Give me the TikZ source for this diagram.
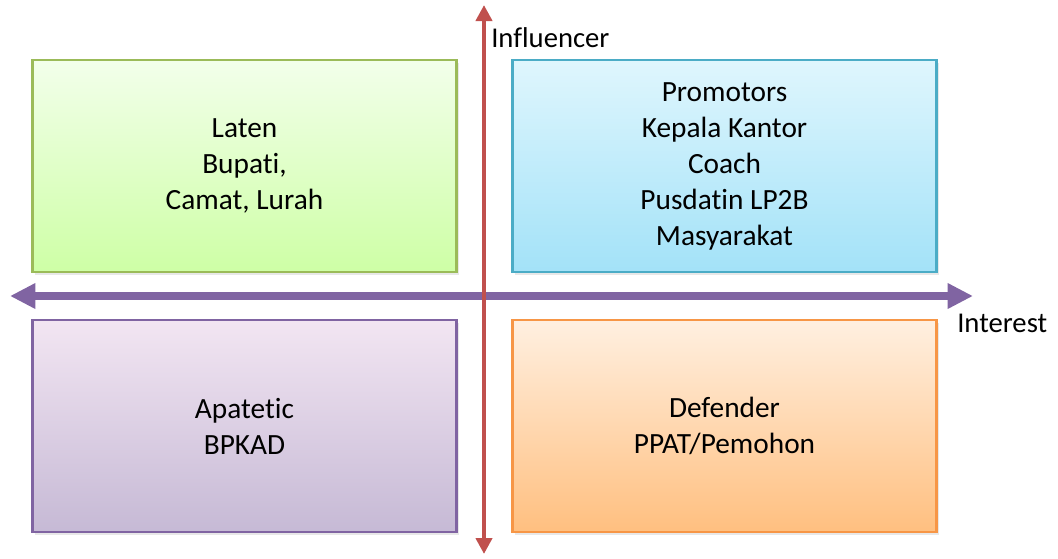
\documentclass[tikz,border=0pt]{standalone}
\usepackage{fontspec}
\setmainfont[Ligatures=NoCommon]{Carlito}
\usetikzlibrary{arrows.meta,shadows}

\definecolor{greenline}{HTML}{9BBB59}
\definecolor{blueline}{HTML}{4BACC6}
\definecolor{purpleline}{HTML}{8064A2}
\definecolor{orangeline}{HTML}{F79646}
\definecolor{axisred}{HTML}{C0504D}
\definecolor{bluetop}{HTML}{DFF6FD}
\definecolor{bluebottom}{HTML}{A3E2F8}

\begin{document}
\begin{tikzpicture}[x=0.75pt, y=-0.75pt,
    quadrant/.style={rectangle, line width=1.6pt, minimum width=318pt, minimum height=159pt,
        align=center, inner sep=0pt, font=\fontsize{22}{27}\selectfont,
        drop shadow={opacity=0.18, shadow xshift=2pt, shadow yshift=-2pt}},
    axislabel/.style={anchor=west, inner sep=0pt, font=\fontsize{21.5}{26}\selectfont}]
        \useasboundingbox (0, 0) rectangle (1058, 558);

        % Draw the four quadrants
        \node[quadrant, draw=greenline, top color=green!50!lime!8, bottom color=green!40!lime!35!white]
            (laten) at (244.5, 166) {Laten\\Bupati,\\Camat, Lurah};
        \node[quadrant, draw=blueline, top color=bluetop, bottom color=bluebottom]
            (promotors) at (724.5, 166) {Promotors\\Kepala Kantor\\Coach\\Pusdatin LP2B\\Masyarakat};
        \node[quadrant, draw=purpleline, top color=violet!10, bottom color=purpleline!45!white]
            (apatetic) at (244.5, 426) {Apatetic\\BPKAD};
        \node[quadrant, draw=orangeline, top color=orange!12, bottom color=orange!50!white]
            (defender) at (724.5, 426) {Defender\\PPAT/Pemohon};

        % Draw the axes
        \coordinate (left) at (10, 296);
        \coordinate (right) at (973, 296);
        \coordinate (top) at (484, 5);
        \coordinate (bottom) at (484, 554);
        \draw[{Triangle[length=19pt, width=18pt]}-{Triangle[length=19pt, width=18pt]},
            purpleline, line width=6pt] (left) -- (right);
        \draw[{Triangle[length=12pt, width=12pt]}-{Triangle[length=12pt, width=12pt]},
            axisred, line width=3.5pt] (top) -- (bottom);

        % Axis labels
        \node[axislabel] (influencer) at (491, 38) {Influencer};
        \node[axislabel] (interest) at (957, 323) {Interest};

    \end{tikzpicture}
\end{document}
